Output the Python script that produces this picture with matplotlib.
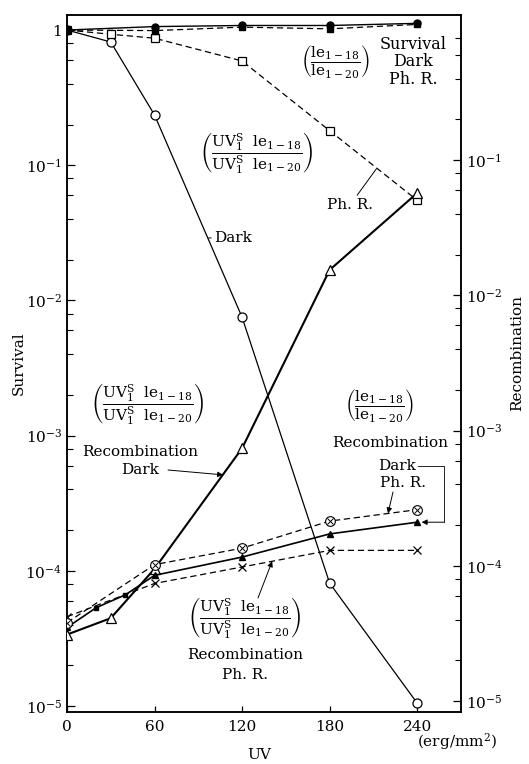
import numpy as np
import matplotlib
matplotlib.use("Agg")
import matplotlib.pyplot as plt
from matplotlib.lines import Line2D
from matplotlib.ticker import FixedLocator, FixedFormatter, LogLocator, NullFormatter

plt.rcParams['font.family'] = ['DejaVu Serif']
plt.rcParams['mathtext.fontset'] = 'dejavuserif'

# UV dose (erg/mm^2)
dose = [0, 30, 60, 120, 180, 240]
dose5 = [0, 60, 120, 180, 240]

# survival, UV1S le1-18 / UV1S le1-20
surv_dark = [1.0, 0.815, 0.235, 7.5e-3, 8.1e-5, 1.05e-5]
surv_phr = [1.0, 0.93, 0.87, 0.59, 0.18, 0.055]
# survival, le1-18 / le1-20
surv_le_dark = [1.0, 1.06, 1.08, 1.08, 1.12]
surv_le_phr = [1.0, 0.99, 1.05, 1.02, 1.1]

# recombination, UV1S le1-18 / UV1S le1-20
rec_dark = [3.1e-5, 4.1e-5, 9.5e-5, 7.4e-4, 1.54e-2, 5.7e-2]
rec_phr_x = [0, 60, 120, 180, 240]
rec_phr = [4.2e-5, 7.4e-5, 9.8e-5, 1.3e-4, 1.3e-4]
# recombination, le1-18 / le1-20
rec_le_x = [0, 20, 40, 60, 120, 180, 240]
rec_le_dark = [3.5e-5, 4.9e-5, 6.1e-5, 8.5e-5, 1.16e-4, 1.72e-4, 2.1e-4]
rec_le_phr = [3.8e-5, 1.02e-4, 1.35e-4, 2.14e-4, 2.6e-4]

W, H = 529, 764
fig = plt.figure(figsize=(W / 100, H / 100), dpi=100)
ax = fig.add_axes([67 / W, 52 / H, 394 / W, 697 / H])
ax2 = ax.twinx()

def px(x, y):
    return x / W, 1 - y / H

dash = (0, (5, 3))
ax.plot(dose, surv_dark, color='k', lw=0.9, marker='o', ms=6.5, mfc='white', mec='k', mew=0.9, zorder=3)
ax.plot(dose, surv_phr, color='k', lw=0.9, ls=dash, marker='s', ms=5.5, mfc='white', mec='k', mew=0.9, zorder=3)
ax.plot(dose5, surv_le_phr, color='k', lw=0.9, ls=dash, marker='s', ms=4, mfc='k', mec='k', zorder=3)
ax.plot(dose5, surv_le_dark, color='k', lw=1.0, marker='o', ms=5, mfc='k', mec='k', zorder=3)

ax2.plot(dose, rec_dark, color='k', lw=1.5, marker='^', ms=6.5, mfc='white', mec='k', mew=0.9, zorder=3)
ax2.plot(rec_phr_x, rec_phr, color='k', lw=0.9, ls=dash, marker='x', ms=6, mec='k', mew=0.9, zorder=3)
ax2.plot(rec_le_x, rec_le_dark, color='k', lw=1.2, marker='^', ms=5, mfc='k', mec='k',
         markevery=[0, 3, 4, 5, 6], zorder=3)
ax2.plot(rec_le_x[1:3], rec_le_dark[1:3], ls='none', marker='s', ms=2.5, color='k', zorder=3)
# circled cross: open circle with an x inside
ax2.plot(dose5, rec_le_phr, color='k', lw=0.9, ls=dash, marker='o', ms=7, mfc='white', mec='k', mew=0.8, zorder=4)
ax2.plot(dose5, rec_le_phr, ls='none', marker='x', ms=4.5, mec='k', mew=0.7, zorder=5)

ax.set_xlim(0, 270)
ax.set_yscale('log')
ax.set_ylim(10 ** -5.044, 10 ** 0.111)
ax2.set_yscale('log')
ax2.set_ylim(10 ** -5.081, 10 ** 0.072)

ax.xaxis.set_major_locator(FixedLocator([0, 60, 120, 180, 240]))
ax.set_xticklabels(['0', '60', '120', '180', '240'])

ax.yaxis.set_major_locator(FixedLocator([1e-5, 1e-4, 1e-3, 1e-2, 1e-1, 1]))
ax.yaxis.set_major_formatter(FixedFormatter([r'$10^{-5}$', r'$10^{-4}$', r'$10^{-3}$',
                                             r'$10^{-2}$', r'$10^{-1}$', '1']))
ax2.yaxis.set_major_locator(FixedLocator([1e-5, 1e-4, 1e-3, 1e-2, 1e-1]))
ax2.yaxis.set_major_formatter(FixedFormatter([r'$10^{-5}$', r'$10^{-4}$', r'$10^{-3}$',
                                              r'$10^{-2}$', r'$10^{-1}$']))
for a in (ax, ax2):
    a.yaxis.set_minor_locator(LogLocator(base=10, subs=[2, 4, 6, 8]))
    a.yaxis.set_minor_formatter(NullFormatter())
    a.tick_params(which='major', direction='in', length=6, width=0.9, labelsize=11)
    a.tick_params(which='minor', direction='in', length=4, width=0.8)
    for s in a.spines.values():
        s.set_linewidth(1.1)
ax.tick_params(axis='x', length=4, pad=6)

ax.set_ylabel('Survival', fontsize=11)
ax.yaxis.set_label_coords(-0.105, 0.5)
ax2.set_ylabel('Recombination', fontsize=11)
ax2.yaxis.set_label_coords(1.125, 0.515)
fig.text(*px(259, 755), 'UV', fontsize=11, ha='center', va='center')
fig.text(*px(457, 742), '(erg/mm$^2$)', fontsize=11, ha='center', va='center')

uv_frac = (r'$\left(\dfrac{\mathrm{UV}_{1}^{\mathrm{S}}\ \ \mathrm{le}_{1-18}}'
           r'{\mathrm{UV}_{1}^{\mathrm{S}}\ \ \mathrm{le}_{1-20}}\right)$')
le_frac = r'$\left(\dfrac{\mathrm{le}_{1-18}}{\mathrm{le}_{1-20}}\right)$'

fig.text(*px(335, 62), le_frac, fontsize=11, ha='center', va='center')
fig.text(*px(413, 62), 'Survival\nDark\nPh. R.', fontsize=11.5, ha='center', va='center', linespacing=1.05)
fig.text(*px(257, 152), uv_frac, fontsize=11, ha='center', va='center')
fig.text(*px(148, 403), uv_frac, fontsize=11, ha='center', va='center')
fig.text(*px(379, 405), le_frac, fontsize=11, ha='center', va='center')
fig.text(*px(390, 443), 'Recombination', fontsize=11, ha='center', va='center')
fig.text(*px(397, 466), 'Dark', fontsize=11, ha='center', va='center')
fig.text(*px(403, 483), 'Ph. R.', fontsize=11, ha='center', va='center')
fig.text(*px(140, 452), 'Recombination', fontsize=11, ha='center', va='center')
fig.text(*px(140, 470), 'Dark', fontsize=11, ha='center', va='center')
fig.text(*px(245, 618), uv_frac, fontsize=11, ha='center', va='center')
fig.text(*px(245, 655), 'Recombination', fontsize=11, ha='center', va='center')
fig.text(*px(245, 675), 'Ph. R.', fontsize=11, ha='center', va='center')

# pointer lines
thin = dict(arrowstyle='-', lw=0.7, color='k', shrinkA=0, shrinkB=0)
head = dict(arrowstyle='-|>', lw=0.7, color='k', shrinkA=0, shrinkB=0, mutation_scale=8)
ax.annotate('Dark', xy=(97, 0.029), xytext=px(214, 238), textcoords='figure fraction',
            fontsize=11, va='center', ha='left', arrowprops=thin)
ax.annotate('Ph. R.', xy=(212, 0.094), xytext=px(350, 205), textcoords='figure fraction',
            fontsize=11, va='center', ha='center', arrowprops=thin)
ax2.annotate('', xy=(107, 4.7e-4), xytext=px(168, 470), textcoords='figure fraction', arrowprops=head)
ax2.annotate('', xy=(220, 2.44e-4), xytext=px(393, 492), textcoords='figure fraction', arrowprops=head)
ax2.annotate('', xy=(140.6, 1.08e-4), xytext=px(258, 598), textcoords='figure fraction', arrowprops=head)

# bracket from the right-hand "Dark" to the filled-triangle curve
_, ty = ax2.transData.transform((240, rec_le_dark[-1]))
ty = H - ty
fig.add_artist(Line2D([418 / W, 444 / W, 444 / W], [1 - 466 / H, 1 - 466 / H, 1 - ty / H],
                      color='k', lw=0.6))
ax2.annotate('', xy=(243, rec_le_dark[-1]), xytext=px(444, ty), textcoords='figure fraction', arrowprops=head)

fig.savefig('out.png', dpi=100)
